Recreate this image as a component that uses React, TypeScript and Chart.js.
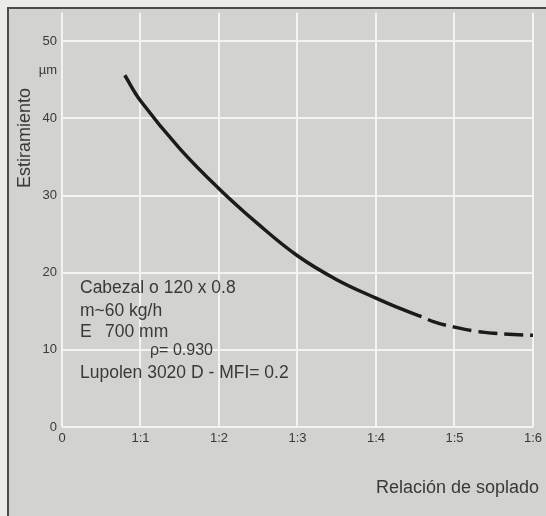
import React, { useEffect, useRef } from 'react';
import { Chart, registerables } from 'chart.js';

Chart.register(...registerables);

// Tick labels
const xTickLabels = ['0', '1:1', '1:2', '1:3', '1:4', '1:5', '1:6'];
const yTickValues = [0, 10, 20, 30, 40, 50];

// Curve (solid part): blow-up ratio vs. film thickness (µm)
const solidRatio = [0.8, 1.0, 1.5, 2.0, 2.5, 3.0, 3.5, 4.0, 4.25, 4.58];
const solidThickness = [45.6, 42.3, 36.1, 30.9, 26.3, 22.2, 19.1, 16.7, 15.6, 14.3];

// Curve (dashed part)
const dashedRatio = [4.58, 4.75, 5.0, 5.25, 5.5, 5.75, 6.0, 6.15];
const dashedThickness = [14.3, 13.6, 12.95, 12.45, 12.15, 11.98, 11.9, 11.9];

// Texts
const yAxisTitle = 'Estiramiento';
const yUnit = 'µm';
const xAxisTitle = 'Relación de soplado';
const infoLines = ['Cabezal o 120 x 0.8', 'm~60 kg/h', 'E', '700 mm', 'ρ= 0.930', 'Lupolen 3020 D - MFI= 0.2'];

const FONT = '"Liberation Sans", Arial, Helvetica, sans-serif';
const TEXT = '#393937';

export default function App() {
  const ref = useRef<HTMLCanvasElement>(null);

  useEffect(() => {
    const canvas = ref.current;
    if (!canvas) return;

    const decor = {
      id: 'decor',
      beforeDraw(chart: any) {
        const { ctx, width, height } = chart;
        ctx.save();
        ctx.fillStyle = '#ebebe9';
        ctx.fillRect(0, 0, width, height);
        ctx.fillStyle = '#d2d3cf';
        ctx.fillRect(9, 9, width - 9, height - 9);
        ctx.fillStyle = '#4b4b49';
        ctx.fillRect(7, 7, 2, height - 7);
        ctx.fillRect(7, 7, width - 7, 2);
        ctx.restore();
      },
      afterDraw(chart: any) {
        const { ctx } = chart;
        ctx.save();
        ctx.fillStyle = TEXT;
        ctx.textBaseline = 'middle';

        // unit under 50
        ctx.font = `13px ${FONT}`;
        ctx.textAlign = 'right';
        ctx.fillText(yUnit, 57, 70);

        // y axis title rotated
        ctx.save();
        ctx.translate(25, 138);
        ctx.rotate(-Math.PI / 2);
        ctx.font = `18px ${FONT}`;
        ctx.textAlign = 'center';
        ctx.fillText(yAxisTitle, 0, 0);
        ctx.restore();

        // x axis title
        ctx.font = `18px ${FONT}`;
        ctx.textAlign = 'right';
        ctx.fillText(xAxisTitle, 539, 488);

        // info block
        ctx.textAlign = 'left';
        ctx.font = `17.5px ${FONT}`;
        ctx.fillText(infoLines[0], 80, 288);
        ctx.fillText(infoLines[1], 80, 311);
        ctx.fillText(infoLines[2], 80, 332);
        ctx.fillText(infoLines[3], 105, 332);
        ctx.font = `16px ${FONT}`;
        ctx.fillText(infoLines[4], 150, 351);
        ctx.font = `17.5px ${FONT}`;
        ctx.fillText(infoLines[5], 80, 373);
        ctx.restore();
      },
    };

    const lineStyle = {
      borderColor: '#1b1b1a',
      borderWidth: 3.5,
      pointRadius: 0,
      fill: false,
      tension: 0.4,
    };

    const chart = new Chart(canvas, {
      type: 'line',
      data: {
        datasets: [
          {
            ...lineStyle,
            data: solidRatio.map((x, i) => ({ x, y: solidThickness[i] })),
          },
          {
            ...lineStyle,
            borderDash: [19, 7],
            borderDashOffset: 19,
            clip: false,
            data: dashedRatio.map((x, i) => ({ x, y: dashedThickness[i] })),
          },
        ],
      },
      options: {
        animation: false,
        responsive: false,
        devicePixelRatio: 1,
        layout: { padding: { left: 0, top: 9, right: 12, bottom: 0 } },
        plugins: {
          legend: { display: false },
          tooltip: { enabled: false },
        },
        scales: {
          x: {
            type: 'linear',
            min: 0,
            max: 6,
            afterBuildTicks: (s: any) => {
              s.ticks = xTickLabels.map((_, i) => ({ value: i }));
            },
            afterFit: (s: any) => {
              s.height = 89;
            },
            border: { display: false },
            grid: { color: '#f3f3ef', lineWidth: 2, drawTicks: false },
            ticks: {
              padding: 4,
              color: TEXT,
              font: { family: FONT, size: 13 },
              maxRotation: 0,
              autoSkip: false,
              callback: (_v: any, i: number) => xTickLabels[i],
            },
          },
          y: {
            type: 'linear',
            min: 0,
            max: 53.7,
            afterBuildTicks: (s: any) => {
              s.ticks = yTickValues.map((v) => ({ value: v }));
            },
            afterFit: (s: any) => {
              s.width = 62;
            },
            border: { display: false },
            grid: { color: '#f3f3ef', lineWidth: 2, drawTicks: false },
            ticks: {
              padding: 5,
              color: TEXT,
              font: { family: FONT, size: 13 },
              autoSkip: false,
              callback: (v: any) => String(v),
            },
          },
        },
      },
      plugins: [decor],
    });

    return () => chart.destroy();
  }, []);

  return (
    <div style={{ position: 'fixed', left: 0, top: 0, width: 546, height: 516 }}>
      <canvas ref={ref} width={546} height={516} style={{ display: 'block' }} />
    </div>
  );
}
